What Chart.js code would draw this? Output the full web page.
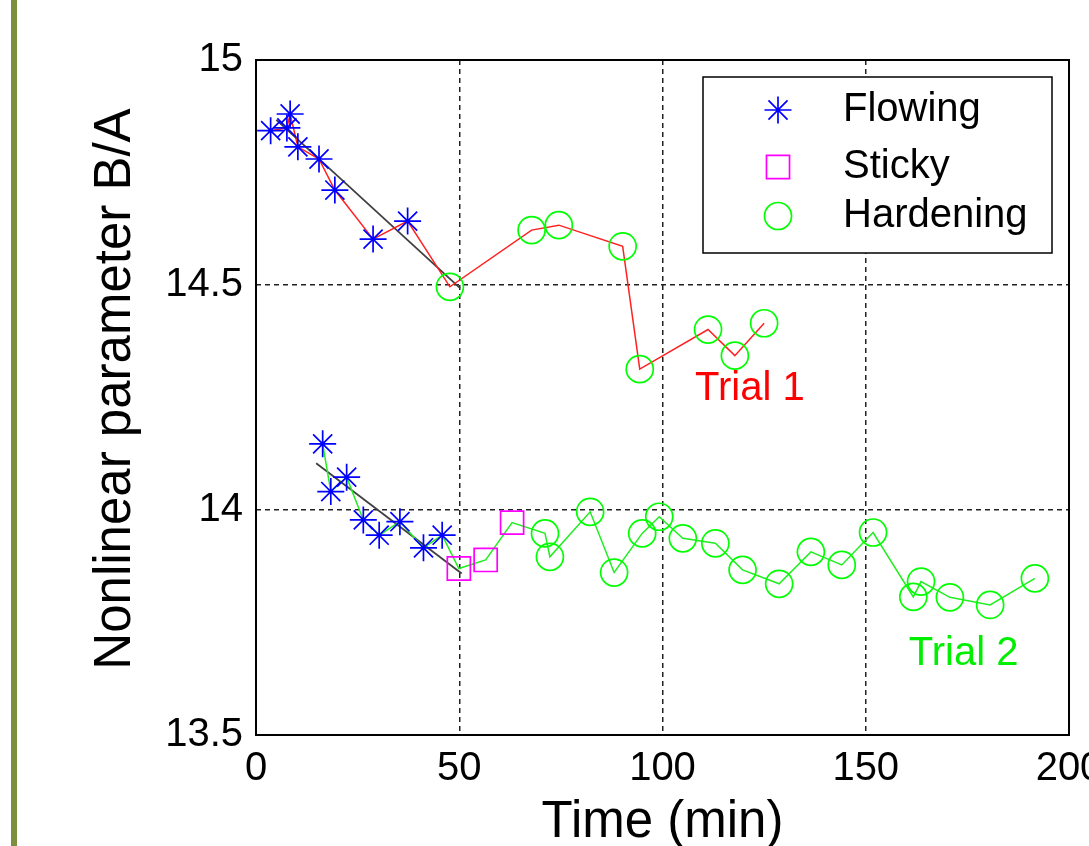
<!DOCTYPE html>
<html>
<head>
<meta charset="utf-8">
<title>Nonlinear parameter B/A vs time</title>
<script src="https://cdn.jsdelivr.net/npm/chart.js@4.4.1/dist/chart.umd.min.js"></script>
<style>
  html, body { margin: 0; padding: 0; background: #fff; }
  #frame { position: relative; width: 1089px; height: 846px; overflow: hidden; }
  #plot { position: absolute; left: 0; top: 0; }
  #edge { position: absolute; left: 11px; top: 0; width: 6px; height: 846px; background: #7b8f3f; }
</style>
</head>
<body>
<div id="frame">
  <canvas id="plot" width="1120" height="870"></canvas>
  <div id="edge"></div>
</div>
<script>
// axis ticks
const xTicks = [0, 50, 100, 150, 200];
const yTicks = [13.5, 14, 14.5, 15];

// trial 1: flowing then hardening
const t1FlowTime  = [3.6, 7.6, 8.4, 10.3, 15.5, 19.4, 28.8, 37.3];
const t1FlowValue = [14.843, 14.849, 14.880, 14.807, 14.780, 14.711, 14.602, 14.642];
const t1HardTime  = [47.7, 67.8, 74.5, 90.2, 94.4, 111.2, 117.8, 125.0];
const t1HardValue = [14.496, 14.622, 14.633, 14.586, 14.313, 14.401, 14.343, 14.415];

// trial 2: flowing, sticky, hardening
const t2FlowTime    = [16.4, 18.4, 22.3, 26.4, 30.3, 35.4, 41.2, 45.8];
const t2FlowValue   = [14.147, 14.041, 14.073, 13.978, 13.944, 13.974, 13.916, 13.944];
const t2StickyTime  = [49.9, 56.5, 63.0];
const t2StickyValue = [13.870, 13.889, 13.972];
const t2HardTime  = [71.1, 72.3, 82.2, 88.1, 95.0, 99.2, 105.0, 113.0, 119.7, 128.7, 136.5, 144.1, 151.8, 161.7, 163.6, 170.7, 180.6, 191.6];
const t2HardValue = [13.948, 13.896, 13.996, 13.861, 13.948, 13.985, 13.937, 13.926, 13.867, 13.836, 13.907, 13.878, 13.950, 13.807, 13.841, 13.806, 13.789, 13.848];

// linear fits over the flowing phase
const t1FitTime  = [5.0, 50.2];
const t1FitValue = [14.867, 14.493];
const t2FitTime  = [14.8, 50.6];
const t2FitValue = [14.104, 13.859];

const FONT = "'Liberation Sans', Arial, sans-serif";
Chart.defaults.font.family = FONT;

function pts(xs, ys) {
    return xs.map((x, i) => ({ x: x, y: ys[i] }));
}

const markerSets = [
    { label: 'Flowing', pointStyle: 'star', pointRadius: 13.5, color: '#0000ff',
      data: pts(t1FlowTime, t1FlowValue).concat(pts(t2FlowTime, t2FlowValue)) },
    { label: 'Sticky', pointStyle: 'rect', pointRadius: 16.3, color: '#ff00ff',
      data: pts(t2StickyTime, t2StickyValue) },
    { label: 'Hardening', pointStyle: 'circle', pointRadius: 13.5, color: '#00ff00',
      data: pts(t1HardTime, t1HardValue).concat(pts(t2HardTime, t2HardValue)) },
];

function lineSet(label, data, color, width) {
    return {
        label: label, data: data, showLine: true, borderColor: color,
        borderWidth: width, pointRadius: 0, tension: 0, fill: false, order: 2
    };
}

const datasets = markerSets.map(m => ({
    label: m.label, data: m.data, showLine: false,
    pointStyle: m.pointStyle, pointRadius: m.pointRadius,
    pointBorderColor: m.color, pointBackgroundColor: 'rgba(0,0,0,0)',
    pointBorderWidth: 1.7, order: 1
})).concat([
    lineSet('Trial 1', pts(t1FlowTime, t1FlowValue).concat(pts(t1HardTime, t1HardValue)), '#ff2020', 1.5),
    lineSet('Trial 2', pts(t2FlowTime, t2FlowValue).concat(pts(t2StickyTime, t2StickyValue), pts(t2HardTime, t2HardValue)), '#20ee20', 1.5),
    lineSet('fit 1', pts(t1FitTime, t1FitValue), '#404040', 1.8),
    lineSet('fit 2', pts(t2FitTime, t2FitValue), '#404040', 1.8),
]);

// solid box round the plot area
const boxPlugin = {
    id: 'box',
    afterDatasetsDraw(chart) {
        const a = chart.chartArea, ctx = chart.ctx;
        ctx.save();
        ctx.strokeStyle = '#000';
        ctx.lineWidth = 2;
        ctx.strokeRect(a.left, a.top, a.right - a.left, a.bottom - a.top);
        ctx.restore();
    }
};

// "Trial 1" / "Trial 2" labels placed in data coordinates
const trialLabels = [
    { text: 'Trial 1', x: 108.0, y: 14.244, color: '#ff0000' },
    { text: 'Trial 2', x: 160.6, y: 13.656, color: '#00ee00' },
];
const trialPlugin = {
    id: 'trialText',
    afterDatasetsDraw(chart) {
        const ctx = chart.ctx, xs = chart.scales.x, ys = chart.scales.y;
        ctx.save();
        ctx.font = '40px ' + FONT;
        ctx.textAlign = 'left';
        ctx.textBaseline = 'alphabetic';
        trialLabels.forEach(t => {
            ctx.fillStyle = t.color;
            ctx.fillText(t.text, xs.getPixelForValue(t.x), ys.getPixelForValue(t.y));
        });
        ctx.restore();
    }
};

// vertical axis title, a little above the middle of the axis
const yTitlePlugin = {
    id: 'yTitle',
    afterDraw(chart) {
        const ctx = chart.ctx;
        ctx.save();
        ctx.translate(130, 389);
        ctx.rotate(-Math.PI / 2);
        ctx.font = '51px ' + FONT;
        ctx.fillStyle = '#000';
        ctx.textAlign = 'center';
        ctx.textBaseline = 'alphabetic';
        ctx.fillText('Nonlinear parameter B/A', 0, 0);
        ctx.restore();
    }
};

// boxed legend in the upper right corner of the axes
const legendPlugin = {
    id: 'boxLegend',
    afterDraw(chart) {
        const ctx = chart.ctx;
        const left = 703, top = 77, right = 1052, bottom = 253;
        ctx.save();
        ctx.fillStyle = '#fff';
        ctx.fillRect(left, top, right - left, bottom - top);
        ctx.strokeStyle = '#000';
        ctx.lineWidth = 1.5;
        ctx.strokeRect(left, top, right - left, bottom - top);
        const rows = [110, 167, 216];
        markerSets.forEach((m, i) => {
            ctx.strokeStyle = m.color;
            ctx.fillStyle = 'rgba(0,0,0,0)';
            ctx.lineWidth = 1.7;
            Chart.helpers.drawPoint(ctx, {
                pointStyle: m.pointStyle, radius: m.pointRadius, rotation: 0, borderWidth: 1.7
            }, 778, rows[i]);
            ctx.fillStyle = '#000';
            ctx.font = '40px ' + FONT;
            ctx.textAlign = 'left';
            ctx.textBaseline = 'middle';
            ctx.fillText(m.label, 843, rows[i]);
        });
        ctx.restore();
    }
};

const gridOpts = { color: '#222', lineWidth: 1.5, drawTicks: false };

new Chart(document.getElementById('plot'), {
    type: 'scatter',
    data: { datasets: datasets },
    options: {
        responsive: false,
        animation: false,
        events: [],
        layout: { padding: { left: 0, top: 60, right: 51, bottom: 0 } },
        plugins: { legend: { display: false }, tooltip: { enabled: false } },
        scales: {
            x: {
                type: 'linear', min: 0, max: 200,
                afterBuildTicks: s => { s.ticks = xTicks.map(v => ({ value: v })); },
                afterFit: s => { s.height = 135; },
                ticks: { color: '#000', font: { size: 40 }, padding: 10, maxRotation: 0, autoSkip: false,
                         callback: v => String(v) },
                grid: gridOpts,
                border: { display: false, dash: [5, 4] },
                title: { display: true, text: 'Time (min)', color: '#000', font: { size: 51 },
                         padding: { top: 0, bottom: 16 } }
            },
            y: {
                type: 'linear', min: 13.5, max: 15,
                afterBuildTicks: s => { s.ticks = yTicks.map(v => ({ value: v })); },
                afterFit: s => { s.width = 256; },
                ticks: { color: '#000', font: { size: 40 }, padding: 13, autoSkip: false,
                         callback: v => String(v) },
                grid: gridOpts,
                border: { display: false, dash: [5, 4] }
            }
        }
    },
    plugins: [boxPlugin, trialPlugin, yTitlePlugin, legendPlugin]
});
</script>
</body>
</html>
